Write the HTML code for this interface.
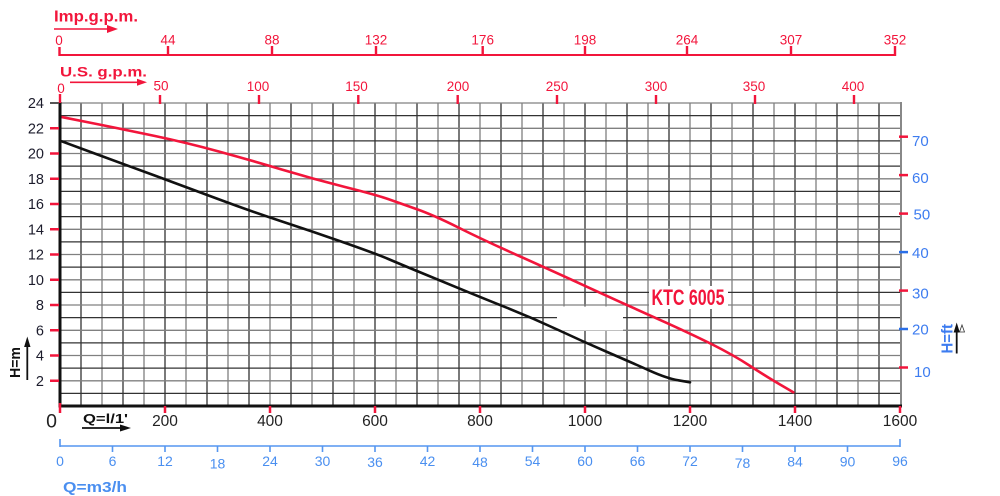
<!DOCTYPE html>
<html><head><meta charset="utf-8"><style>
html,body{margin:0;padding:0;background:#fff;}
svg{display:block;}
text{font-family:"Liberation Sans",Arial,sans-serif;}
</style></head><body>
<svg width="1000" height="496" viewBox="0 0 1000 496" xmlns="http://www.w3.org/2000/svg">
<!-- grid vertical -->
<g stroke="#333" stroke-width="1.3">
<path d="M81 103V406M123 103V406M165 103V406M207 103V406M249 103V406M291 103V406M333 103V406M375 103V406M417 103V406M459 103V406M501 103V406M543 103V406M585 103V406M627 103V406M669 103V406M711 103V406M753 103V406M795 103V406M837 103V406M879 103V406"/>
</g>
<g stroke="#808080" stroke-width="1.3">
<path d="M102 103V406M144 103V406M186 103V406M228 103V406M270 103V406M312 103V406M354 103V406M396 103V406M438 103V406M480 103V406M522 103V406M564 103V406M606 103V406M648 103V406M690 103V406M732 103V406M774 103V406M816 103V406M858 103V406"/>
</g>
<!-- grid horizontal -->
<g stroke="#333" stroke-width="1.3">
<path d="M60 115.6H901M60 140.9H901M60 166.1H901M60 191.4H901M60 216.6H901M60 241.9H901M60 267.1H901M60 292.4H901M60 317.6H901M60 342.9H901M60 368.1H901M60 393.4H901"/>
</g>
<g stroke="#808080" stroke-width="1.3">
<path d="M60 103H901M60 128.3H901M60 153.5H901M60 178.8H901M60 204H901M60 229.3H901M60 254.5H901M60 279.8H901M60 305H901M60 330.3H901M60 355.5H901M60 380.8H901"/>
</g>
<line x1="901" y1="102" x2="901" y2="407" stroke="#888" stroke-width="2"/>
<!-- white patches -->
<rect x="557" y="306.5" width="66" height="24" fill="#fff"/>
<!-- curves -->
<path fill="none" stroke="#f2153b" stroke-width="2.6" stroke-linecap="round"
 d="M60,116.7 L91.65,123 Q123.3,129.3 155,136 Q186.7,142.7 218.35,151.35 Q250,160 281.65,169.5 Q313.3,179 345,187 Q376.7,195 388.35,199.15 Q400,203.3 416.65,209.15 Q433.3,215 458.3,227.5 Q483.3,240 515,254.15 Q546.7,268.3 586.7,286.65 Q626.7,305 658.35,319.15 Q690,333.3 711.65,344.15 Q733.3,355 750,365.85 Q766.7,376.7 780,384.5 L793.3,392.3"/>
<path fill="none" stroke="#111" stroke-width="2.6" stroke-linecap="round"
 d="M60,140.7 L91.65,152.35 Q123.3,164 155,175.65 Q186.7,187.3 218.35,199.15 Q250,211 281.65,221.35 Q313.3,231.7 345,242.85 Q376.7,254 388.35,259 Q400,264 420,272.25 Q440,280.5 461.65,289.4 Q483.3,298.3 508.3,308.3 Q533.3,318.3 558.3,330 Q583.3,341.7 608.3,352.5 Q633.3,363.3 650,370.8 Q666.7,378.3 678.35,380.3 L690,382.3"/>
<!-- KTC label -->
<rect x="649" y="286" width="79" height="23" fill="#fff"/>
<text x="651.5" y="305" font-family="'Liberation Sans Narrow','Liberation Sans',sans-serif" font-weight="bold" font-size="22.5" fill="#f2153b" textLength="73" lengthAdjust="spacingAndGlyphs">KTC 6005</text>
<!-- axes -->
<line x1="59" y1="406" x2="902" y2="406" stroke="#111" stroke-width="3"/>
<line x1="60" y1="102" x2="60" y2="407.5" stroke="#111" stroke-width="3"/>
<!-- left ticks -->
<g stroke="#f2153b" stroke-width="2.5">
<path d="M50 128.3H59M50 153.5H59M50 178.8H59M50 204H59M50 229.3H59M50 254.5H59M50 279.8H59M50 305H59M50 330.3H59M50 355.5H59M50 380.8H59"/>
</g>
<line x1="50" y1="103" x2="59" y2="103" stroke="#555" stroke-width="2"/>
<g font-size="14.5" fill="#1c1c2c" text-anchor="end">
<text x="44" y="108">24</text><text x="44" y="133.3">22</text><text x="44" y="158.5">20</text>
<text x="44" y="183.8">18</text><text x="44" y="209">16</text><text x="44" y="234.3">14</text>
<text x="44" y="259.5">12</text><text x="44" y="284.8">10</text><text x="44" y="310">8</text>
<text x="44" y="335.3">6</text><text x="44" y="360.5">4</text><text x="44" y="385.8">2</text>
</g>
<!-- H=m -->
<text transform="translate(20,378) rotate(-90)" font-size="14.5" font-weight="bold" fill="#111" textLength="31" lengthAdjust="spacingAndGlyphs">H=m</text>
<line x1="27.3" y1="380" x2="27.3" y2="345" stroke="#111" stroke-width="1.8"/>
<path d="M27.3 336.5 L30.5 347 L24.1 347 Z" fill="#111"/>
<!-- bottom ticks -->
<g stroke="#f2153b" stroke-width="2.5">
<path d="M60 403V413M165 406V413M270 406V413M375 406V413M480 406V413M585 406V413M690 406V413M795 406V413M900 406V413"/>
</g>
<text x="51.5" y="427.5" font-size="19.5" fill="#222" text-anchor="middle">0</text>
<g font-size="15.5" fill="#222" text-anchor="middle">
<text x="165" y="426">200</text><text x="270" y="426">400</text><text x="375" y="426">600</text>
<text x="480" y="426">800</text><text x="585" y="426">1000</text><text x="690" y="426">1200</text>
<text x="795" y="426">1400</text><text x="900" y="426">1600</text>
</g>
<text x="83" y="423" font-size="13" font-weight="bold" fill="#111" textLength="45" lengthAdjust="spacingAndGlyphs">Q=l/1'</text>
<line x1="82" y1="428" x2="121" y2="428" stroke="#111" stroke-width="1.8"/>
<path d="M131 428 L120 424.5 L120 431.5 Z" fill="#111"/>
<!-- blue m3/h axis -->
<g stroke="#5596f0" stroke-width="1.6">
<line x1="60" y1="446" x2="900" y2="446"/>
<path d="M60 439V447M900 439V447M112.5 446V452M165 446V452M217.5 446V452M270 446V452M322.5 446V452M375 446V452M427.5 446V452M480 446V452M532.5 446V452M585 446V452M637.5 446V452M690 446V452M742.5 446V452M795 446V452M847.5 446V452"/>
</g>
<g font-size="14" fill="#4a8ff0" text-anchor="middle">
<text x="60" y="466">0</text><text x="112.5" y="466">6</text><text x="165" y="466">12</text>
<text x="217.5" y="468.5">18</text><text x="270" y="466">24</text><text x="322.5" y="466">30</text>
<text x="375" y="467">36</text><text x="427.5" y="466">42</text><text x="480" y="467">48</text>
<text x="532.5" y="466">54</text><text x="585" y="466">60</text><text x="637.5" y="466">66</text>
<text x="690" y="466">72</text><text x="742.5" y="468">78</text><text x="795" y="466.5">84</text>
<text x="847.5" y="466.5">90</text><text x="900" y="466">96</text>
</g>
<text x="63" y="492" font-size="14.5" font-weight="bold" fill="#4a8ff0" textLength="64" lengthAdjust="spacingAndGlyphs">Q=m3/h</text>
<!-- right ft axis -->
<g stroke-width="2.5">
<line x1="899" y1="136.7" x2="908" y2="136.7" stroke="#f2153b"/>
<line x1="899" y1="175.1" x2="908" y2="175.1" stroke="#f2153b"/>
<line x1="899" y1="213.6" x2="908" y2="213.6" stroke="#f2153b"/>
<line x1="899" y1="252.1" x2="908" y2="252.1" stroke="#2a6fe8"/>
<line x1="899" y1="290.6" x2="908" y2="290.6" stroke="#f2153b"/>
<line x1="899" y1="329" x2="908" y2="329" stroke="#2a6fe8"/>
<line x1="899" y1="367.5" x2="908" y2="367.5" stroke="#f2153b"/>
</g>
<g font-size="15" fill="#3d7cf0">
<text x="912" y="146">70</text><text x="912" y="183">60</text><text x="913.5" y="219.5">50</text>
<text x="912" y="258">40</text><text x="912" y="298.5">30</text><text x="912" y="334.5">20</text>
<text x="914" y="377">10</text>
</g>
<text transform="translate(952.7,353.5) rotate(-90)" font-size="15.5" font-weight="bold" fill="#3d7cf0" textLength="29.5" lengthAdjust="spacingAndGlyphs">H=ft</text>
<line x1="956.7" y1="353.5" x2="956.7" y2="331" stroke="#111" stroke-width="1.8"/>
<path d="M956.7 322.5 L959.8 332.5 L953.6 332.5 Z" fill="#111"/>
<path d="M962 325 L964.5 332 L959.5 332 Z" fill="none" stroke="#333" stroke-width="0.8"/>
<!-- Imp gpm axis -->
<text x="54" y="21.7" font-size="16" font-weight="bold" fill="#f2153b" textLength="84" lengthAdjust="spacingAndGlyphs">Imp.g.p.m.</text>
<line x1="54" y1="29" x2="108" y2="29" stroke="#f2153b" stroke-width="1.6"/>
<path d="M118 29 L107 25 L107 33 Z" fill="#f2153b"/>
<line x1="59" y1="55" x2="895" y2="55" stroke="#f2153b" stroke-width="2"/>
<g stroke="#f2153b" stroke-width="2.4">
<path d="M59.5 47V56M168 46V56M272 46V56M376 46V56M482.7 46V56M585 46V56M687 46V56M791 46V56M895 46V56"/>
</g>
<g font-size="13.5" fill="#f2153b" text-anchor="middle">
<text x="59" y="45">0</text><text x="168" y="44.5">44</text><text x="272" y="44.5">88</text>
<text x="376" y="44.5">132</text><text x="482.7" y="44.5">176</text><text x="585" y="44.5">198</text>
<text x="687" y="44.5">264</text><text x="791" y="44.5">307</text><text x="895" y="44.5">352</text>
</g>
<!-- US gpm -->
<text x="60" y="76.5" font-size="13.5" font-weight="bold" fill="#f2153b" textLength="87" lengthAdjust="spacingAndGlyphs">U.S. g.p.m.</text>
<line x1="70" y1="82.3" x2="138" y2="82.3" stroke="#f2153b" stroke-width="1.6"/>
<path d="M147 82.3 L137 78.8 L137 85.8 Z" fill="#f2153b"/>
<g stroke="#f2153b" stroke-width="2.4">
<path d="M60 94V103M160 95V104M259 95V104M358.3 95V104M457.7 95V104M557 95V104M656 95V104M755 95V104M854 95V104"/>
</g>
<g font-size="13.5" fill="#f2153b" text-anchor="middle">
<text x="61" y="93">0</text><text x="161" y="90.5">50</text><text x="258" y="91">100</text>
<text x="356.5" y="91">150</text><text x="458" y="91">200</text><text x="557" y="91">250</text>
<text x="656" y="91">300</text><text x="754" y="91">350</text><text x="853" y="91">400</text>
</g>
</svg>
</body></html>
